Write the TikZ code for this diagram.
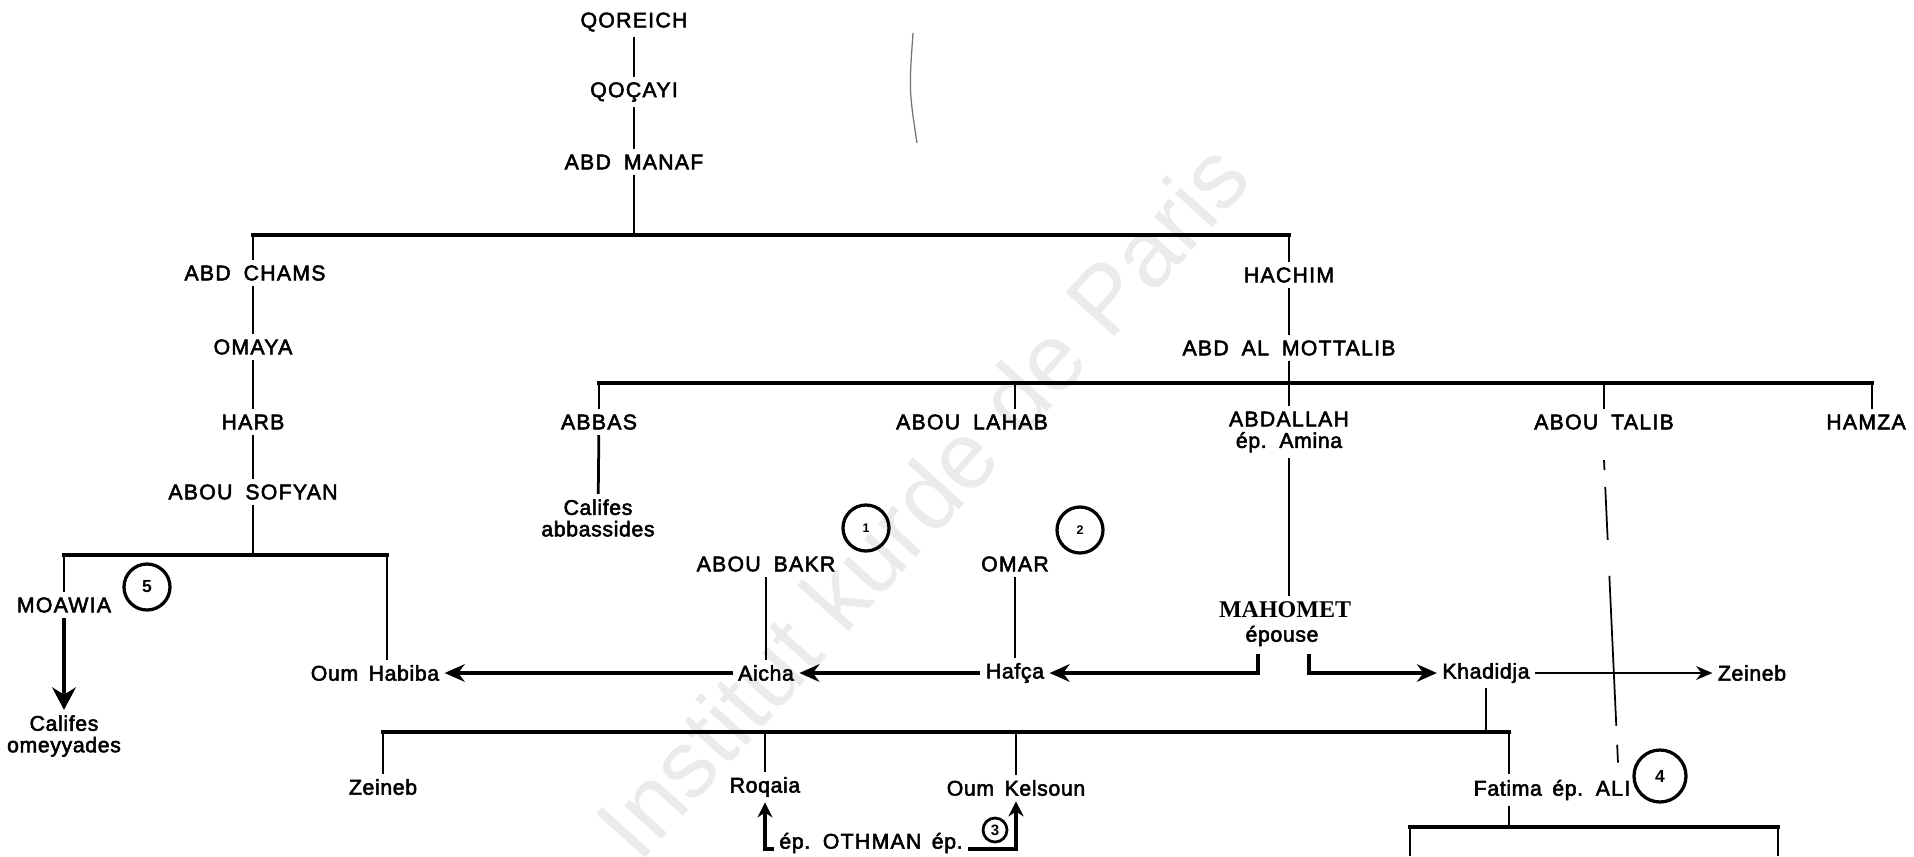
\documentclass[tikz,border=0pt]{standalone}
\usepackage{fontspec}
\setmainfont{Liberation Sans}
\newfontfamily\capsf[LetterSpace=6,WordSpace=1.8,FakeBold=2.5]{Liberation Sans}
\newfontfamily\lowf[LetterSpace=3,WordSpace=1.6,FakeBold=2.5]{Liberation Sans}
\newfontfamily\serifb{Liberation Serif}
\usetikzlibrary{arrows.meta}
\begin{document}
\begin{tikzpicture}[x=0.4pt,y=-0.4pt,
  nm/.style={font=\fontsize{8.5}{8.6}\selectfont\capsf, inner sep=2pt, align=center},
  lc/.style={font=\fontsize{8.5}{8.6}\selectfont\lowf, inner sep=2pt, align=center},
  circ/.style={circle, draw, line width=1.3pt, minimum size=18.4pt, inner sep=0pt, font=\fontsize{5}{5}\selectfont\bfseries},
  ln/.style={line width=1.1pt},
  bar/.style={line width=1.8pt, line cap=rect},
  arr/.style={line width=1.6pt, -{Stealth[length=8pt,width=7pt]}},
  bigarr/.style={line width=1.4pt, -{Stealth[length=9pt,width=9.5pt]}},
  thinarr/.style={line width=0.9pt, -{Stealth[length=6.5pt,width=5.5pt]}},
  uparr/.style={line width=1.6pt, -{Stealth[length=6pt,width=6pt]}},
  dashln/.style={line width=0.7pt, dash pattern=on 4pt off 6.8pt on 21.2pt off 14.4pt on 60pt off 7.6pt on 7.2pt},
  wmark/.style={text=black!8, font=\fontsize{38}{40}\selectfont, rotate=48}
]
\fill[white] (0,0) rectangle (1914,856);
\useasboundingbox (0,0) rectangle (1914,856);

% watermark
\node[wmark] (wm) at (922,500) {Institut kurde de Paris};

% stray mark of the scan
\draw[black!55, line width=0.5pt] (913,33) .. controls (909,90) .. (917,143);

% nodes
\node[nm] (qoreich) at (634,22) {QOREICH};
\node[nm] (qocayi) at (634,92) {QOÇAYI};
\node[nm] (abdmanaf) at (634,162) {ABD MANAF};
\node[nm] (abdchams) at (255,273) {ABD CHAMS};
\node[nm] (hachim) at (1289,275) {HACHIM};
\node[nm] (omaya) at (253,347) {OMAYA};
\node[nm] (abdal) at (1289,348) {ABD AL MOTTALIB};
\node[nm] (harb) at (253,422) {HARB};
\node[nm] (abbas) at (599,422) {ABBAS};
\node[nm] (aboulahab) at (972,422) {ABOU LAHAB};
\node[nm] (abdallah) at (1289,432) {ABDALLAH\\{\lowf ép. Amina}};
\node[nm] (aboutalib) at (1604,422) {ABOU TALIB};
\node[nm] (hamza) at (1866,422) {HAMZA};
\node[nm] (abousofyan) at (253,492) {ABOU SOFYAN};
\node[lc] (califesab) at (598,518) {Califes\\abbassides};
\node[nm] (moawia) at (64,605) {MOAWIA};
\node[circ, font=\fontsize{7}{7}\selectfont\bfseries] (c5) at (147,587) {5};
\node[lc] (califesom) at (64,736) {Califes\\omeyyades};
\node[lc] (oumhabiba) at (375,673) {Oum Habiba};
\node[nm] (aboubakr) at (766,564) {ABOU BAKR};
\node[circ] (c1) at (866,528) {1};
\node[nm] (omar) at (1015,564) {OMAR};
\node[circ] (c2) at (1080,530) {2};
\node[lc] (aicha) at (766,673) {Aicha};
\node[lc] (hafca) at (1015,673) {Hafça};
\node[font=\fontsize{9.6}{10}\selectfont\serifb\bfseries, inner sep=2pt] (mahomet) at (1285,610) {MAHOMET};
\node[lc] (epouse) at (1282,636) {épouse};
\node[lc] (khadidja) at (1486,673) {Khadidja};
\node[lc] (zeinebr) at (1752,673) {Zeineb};
\node[lc] (zeinebl) at (383,787) {Zeineb};
\node[lc] (roqaia) at (765,787) {Roqaia};
\node[lc] (oumkelsoun) at (1016,788) {Oum Kelsoun};
\node[lc] (fatima) at (1552,790) {Fatima ép. {\capsf ALI}};
\node[circ, minimum size=20.8pt, font=\fontsize{7}{7}\selectfont\bfseries] (c4) at (1660,776) {4};
\node[lc] (othman) at (871,843) {ép. {\capsf OTHMAN} ép.};
\node[circ, minimum size=9.6pt, line width=1.1pt, font=\fontsize{6}{6}\selectfont\bfseries] (c3) at (995,830) {3};

% coordinates of the bars
\coordinate (b1) at (634,235);
\coordinate (b2) at (1289,383);
\coordinate (b2l) at (1015,383);
\coordinate (b2r) at (1872,383);
\coordinate (b3) at (253,555);
\coordinate (b3r) at (387,555);
\coordinate (b4) at (1487,732);
\coordinate (b4r) at (1509,732);
\coordinate (b5) at (1509,827);
\coordinate (b5l) at (1410,827);
\coordinate (b5r) at (1778,827);
\coordinate (e5l) at (1410,856);
\coordinate (e5r) at (1778,856);
\coordinate (alitop) at (1618,763);

% top lineage
\draw[ln] (qoreich) -- (qocayi);
\draw[ln] (qocayi) -- (abdmanaf);
\draw[ln] (abdmanaf) -- (b1);
\draw[bar] (omaya.north |- b1) -- (hachim.north |- b1);
\draw[ln] (omaya.north |- b1) -- (omaya.north |- abdchams.north);
\draw[ln] (hachim.north |- b1) -- (hachim);

% Omayyad side
\draw[ln] (omaya.north |- abdchams.south) -- (omaya);
\draw[ln] (omaya) -- (harb);
\draw[ln] (harb) -- (abousofyan);
\draw[ln] (abousofyan) -- (b3);
\draw[bar] (moawia.north |- b3) -- (b3r);
\draw[ln] (moawia.north |- b3) -- (moawia);
\draw[ln] (b3r) -- (b3r |- oumhabiba.north);
\draw[bigarr] (moawia) -- (califesom);

% Hashimite side
\draw[ln] (hachim) -- (abdal);
\draw[ln] (abdal) -- (abdallah);
\draw[bar] (abbas.north |- b2) -- (b2r);
\draw[ln] (abbas.north |- b2) -- (abbas);
\draw[ln] (b2l) -- (b2l |- aboulahab.north);
\draw[ln] (aboutalib.north |- b2) -- (aboutalib);
\draw[ln] (b2r) -- (b2r |- hamza.north);
\draw[ln] (abbas) -- (califesab);
\draw[ln] (abdallah) -- (abdallah |- mahomet.north);
\draw[dashln] ([yshift=-10pt]aboutalib.south) -- (alitop);

% fathers-in-law
\draw[ln] (aboubakr) -- (aicha);
\draw[ln] (omar) -- (hafca);

% marriages
\draw[arr] (aicha) -- (oumhabiba);
\draw[arr] (hafca) -- (aicha);
\draw[arr] ([xshift=-9.6pt,yshift=-1pt]epouse.south) |- (hafca);
\draw[arr] ([xshift=10.8pt,yshift=-1pt]epouse.south) |- (khadidja);
\draw[thinarr] (khadidja) -- (zeinebr);

% children of Khadidja
\draw[ln] (khadidja) -- (khadidja |- b4);
\draw[bar] (zeinebl.north |- b4) -- (b4r);
\draw[ln] (zeinebl.north |- b4) -- (zeinebl);
\draw[ln] (roqaia.north |- b4) -- (roqaia);
\draw[ln] (oumkelsoun.north |- b4) -- (oumkelsoun);
\draw[ln] (b4r) -- (b4r |- fatima.north);

% Fatima's children
\draw[ln] (fatima.south -| b5) -- (b5);
\draw[bar] (b5l) -- (b5r);
\draw[ln] (b5l) -- (e5l);
\draw[ln] (b5r) -- (e5r);

% Othman
\draw[uparr] (othman.base west) -| (roqaia);
\draw[uparr] (othman.base east) -| (oumkelsoun);
\end{tikzpicture}
\end{document}
